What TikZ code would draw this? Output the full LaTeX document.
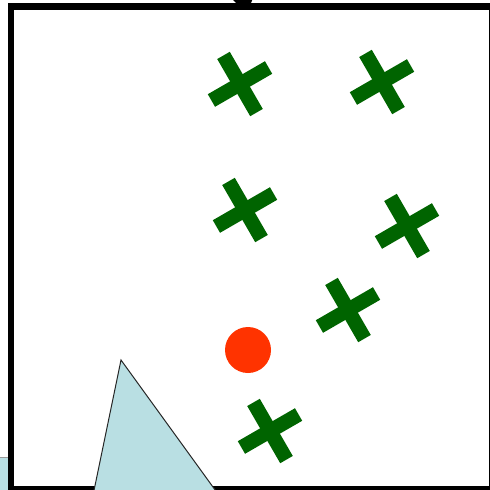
\documentclass[tikz,border=0pt]{standalone}
\usetikzlibrary{calc}
\definecolor{xgreen}{RGB}{0,100,0}
\definecolor{dotred}{RGB}{255,51,0}
\definecolor{paleblue}{RGB}{185,223,227}
\tikzset{
  frame/.style={draw=black, line width=6.5pt},
  crossmark/.style={draw=xgreen, line width=14.5pt, line cap=butt},
  wedge/.style={fill=paleblue, draw=black!85, line width=1pt, line join=miter},
  dot/.style={circle, fill=dotred, minimum size=46pt, inner sep=0pt},
}
\begin{document}
\begin{tikzpicture}[x=1pt, y=-1pt]
\useasboundingbox (0,0) rectangle (490,490);
\clip (0,0) rectangle (490,490);
% partial shape at far left
\draw[fill=paleblue, draw=black!40, line width=0.8pt] (-20,457) rectangle (9,520);
% top blob
\fill[black] (231,-2) -- (253,-2) -- (251,3) -- (236,3) -- cycle;
% frame
\draw[frame] (11,6.5) rectangle (492.5,489);
% crosses
\foreach \n/\cx/\cy in {c1/240/84, c2/382/82, c3/245/210, c4/407/226, c5/348/310, c6/270/431} {
  \coordinate (\n) at (\cx,\cy);
  \draw[crossmark] ($(\n)+(-30:33)$) -- ($(\n)+(150:33)$);
  \draw[crossmark] ($(\n)+(60:33)$) -- ($(\n)+(240:33)$);
}
% red dot
\node[dot] (d) at (248,350) {};
% triangle
\coordinate (tA) at (121,360);
\coordinate (tB) at (91,505);
\coordinate (tC) at (226,505);
\draw[wedge] (tA) -- (tC) -- (tB) -- cycle;
\end{tikzpicture}
\end{document}
